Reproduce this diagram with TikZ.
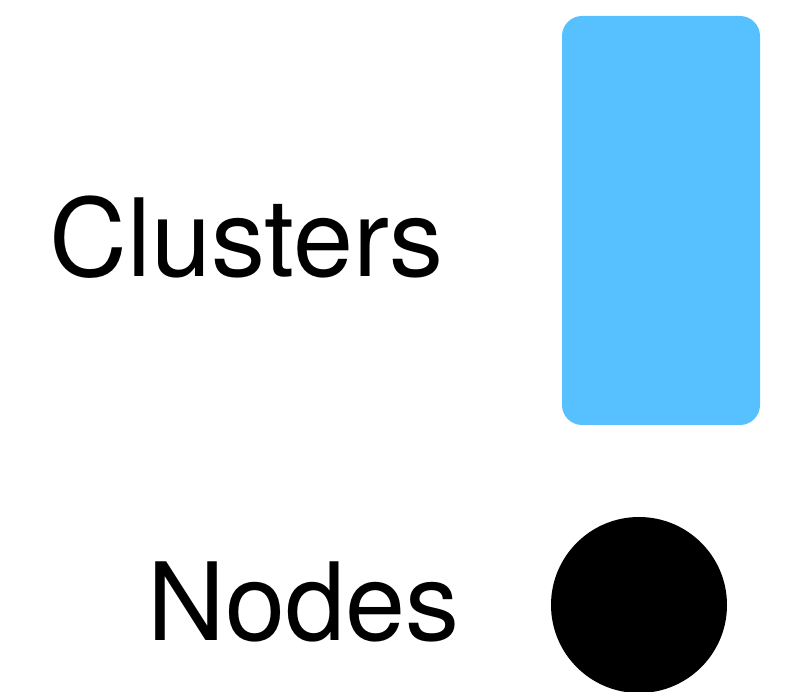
\documentclass[tikz,border=0pt]{standalone}
\usepackage{fontspec}
\setmainfont{TeX Gyre Heros}
\definecolor{clusterblue}{HTML}{57C1FF}
\begin{document}
\begin{tikzpicture}[x=1pt,y=-1pt,
  legendlabel/.style={anchor=base west,inner sep=0pt,font=\fontsize{108}{118}\selectfont},
  clusterbox/.style={fill=clusterblue,draw=none,rounded corners=20pt},
  nodedot/.style={circle,fill=black,draw=none,minimum size=176pt,inner sep=0pt}]
  \useasboundingbox (0,0) rectangle (785,692);
  \fill[clusterbox] (562,16) rectangle (760,425);
  \node[nodedot] (dot) at (639,605) {};
  \node[legendlabel] (clusters) at (49,277) {Clusters};
  \node[legendlabel] (nodes) at (147,640) {Nodes};
\end{tikzpicture}
\end{document}
